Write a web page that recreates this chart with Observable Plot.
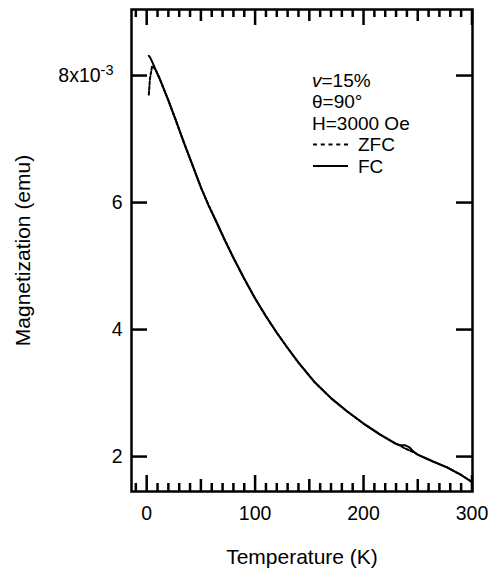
<!DOCTYPE html>
<html><head><meta charset="utf-8">
<script src="https://cdn.jsdelivr.net/npm/d3@7"></script>
<script src="https://cdn.jsdelivr.net/npm/@observablehq/plot@0.6"></script>
<style>body{margin:0;background:#fff}</style>
</head><body><div id="chart"></div>
<script>
// Temperature (K)
const temperature = [2, 3, 5, 8, 12, 16, 20, 27, 34, 42, 50, 57, 65, 72, 80, 90, 100, 110, 120, 130, 140, 155, 170, 185, 200, 215, 230, 234, 238, 242, 246, 250, 263, 277, 290, 300];
// Magnetization, units of 10^-3 emu
const fcValues  = [8.31, 8.29, 8.22, 8.10, 7.95, 7.78, 7.61, 7.29, 6.96, 6.60, 6.24, 5.96, 5.67, 5.41, 5.13, 4.80, 4.49, 4.21, 3.95, 3.71, 3.48, 3.17, 2.92, 2.71, 2.52, 2.35, 2.20, 2.18, 2.18, 2.15, 2.08, 2.03, 1.93, 1.83, 1.71, 1.60];
const zfcValues = [7.70, 7.95, 8.15, 8.10, 7.95, 7.78, 7.61, 7.29, 6.96, 6.60, 6.24, 5.96, 5.67, 5.41, 5.13, 4.80, 4.49, 4.21, 3.95, 3.71, 3.48, 3.17, 2.92, 2.71, 2.52, 2.35, 2.20, 2.17, 2.13, 2.10, 2.07, 2.03, 1.93, 1.83, 1.71, 1.60];

const xTickLabels = [0, 100, 200, 300];
const yTickLabels = [2, 4, 6, 8];
const xMajorTicks = [0, 100, 200, 300];
const xMidTicks = [50, 150, 250];
const xMinorTicks = [-10, 10, 20, 30, 40, 60, 70, 80, 90, 110, 120, 130, 140, 160, 170, 180, 190, 210, 220, 230, 240, 260, 270, 280, 290];
const yMajorTicks = [2, 4, 6, 8];
const legendInfo = ["θ=90°", "H=3000 Oe"];
const legendSeries = ["ZFC", "FC"];

const W = 493, H = 574;
const mTop = 9, mRight = 21, mBottom = 83, mLeft = 131;
const innerH = H - mTop - mBottom;
const innerW = W - mLeft - mRight;
const font = "'Liberation Sans', Arial, Helvetica, sans-serif";
const legendFont = 19, legendStep = 21.5, legendTop = 71;

const zfcRows = temperature.map((t, i) => ({T: t, M: zfcValues[i]}));
const fcRows = temperature.map((t, i) => ({T: t, M: fcValues[i]}));

const tk = (data, len, side) => Plot.tickX(data, {x: d => d, stroke: "#000", strokeWidth: 2.5,
  [side === "bottom" ? "insetTop" : "insetBottom"]: innerH - len});
const ty = (data, len, side) => Plot.tickY(data, {y: d => d, stroke: "#000", strokeWidth: 2.5,
  [side === "left" ? "insetRight" : "insetLeft"]: innerW - len});

const legendX = 181;
const chart = Plot.plot({
  width: W, height: H,
  marginTop: mTop, marginRight: mRight, marginBottom: mBottom, marginLeft: mLeft,
  style: {fontFamily: font, fontSize: "20px", color: "#000", background: "#fff"},
  x: {domain: [-14, 300.5]},
  y: {domain: [1.45, 9.04]},
  marks: [
    Plot.line(zfcRows, {x: "T", y: "M", stroke: "#000", strokeWidth: 2, strokeDasharray: "3,2"}),
    Plot.line(fcRows, {x: "T", y: "M", stroke: "#000", strokeWidth: 2}),
    tk(xMajorTicks, 16, "bottom"), tk(xMidTicks, 12, "bottom"), tk(xMinorTicks, 8, "bottom"),
    tk(xMajorTicks, 16, "top"), tk(xMidTicks, 12, "top"), tk(xMinorTicks, 8, "top"),
    ty(yMajorTicks, 16, "left"), ty(yMajorTicks, 16, "right"),
    Plot.frame({stroke: "#000", strokeWidth: 2.5}),
    Plot.axisX(xTickLabels, {tickSize: 0, tickPadding: 15, fontSize: 19.5,
      label: "Temperature (K)", labelAnchor: "center", labelOffset: 72, labelArrow: "none"}),
    Plot.axisY(yTickLabels, {tickSize: 0, tickPadding: 9, fontSize: 19.5,
      tickFormat: d => d === 8 ? "8x10" : String(d),
      label: "Magnetization (emu)", labelAnchor: "center", labelOffset: 116, labelArrow: "none"}),
  ]
});
document.getElementById("chart").appendChild(chart);

const svg = d3.select(chart);
// axis titles slightly larger than tick labels
svg.selectAll('g[aria-label="x-axis label"], g[aria-label="y-axis label"]').attr("font-size", 21);
// superscript on 8x10^-3
svg.selectAll("text").filter(function() { return this.textContent === "8x10"; })
  .attr("dx", -9)
  .append("tspan").attr("dy", "-0.5em").attr("font-size", 14.5).text("-3");

// annotation block inside the frame
const lg = svg.append("g").attr("font-family", font).attr("font-size", legendFont).attr("text-anchor", "start");
const x0 = mLeft + legendX;
const t0 = lg.append("text").attr("x", x0).attr("y", mTop + legendTop).attr("dy", "0.36em");
t0.append("tspan").attr("font-style", "italic").text("v");
t0.append("tspan").text("=15%");
legendInfo.forEach((s, i) => {
  lg.append("text").attr("x", x0).attr("y", mTop + legendTop + (i + 1) * legendStep).attr("dy", "0.36em").text(s);
});
legendSeries.forEach((s, i) => {
  const y = mTop + legendTop + (i + 3) * legendStep;
  lg.append("line").attr("x1", x0 + 1).attr("x2", x0 + 36)
    .attr("y1", y).attr("y2", y).attr("stroke", "#000").attr("stroke-width", 2)
    .attr("stroke-dasharray", s === "ZFC" ? "4,3.75" : null);
  lg.append("text").attr("x", x0 + 46).attr("y", y).attr("dy", "0.36em").text(s);
});
</script>
</body></html>
